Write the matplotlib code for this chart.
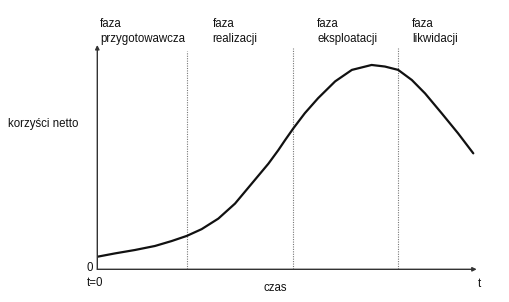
import matplotlib
matplotlib.use("Agg")
import matplotlib.pyplot as plt

# Data (time in % of horizon, net benefit in % of axis height)
t = [0, 4.7, 9.9, 15.2, 19.6, 23.6, 27.5, 31.9, 36.3, 40.7, 45.1, 47.7,
     49.5, 51.7, 54.7, 58.2, 62.7, 67.1, 72.3, 75.8, 79.3, 82.9, 86.4,
     90.8, 95.1, 99.1]
benefit = [5.6, 7.1, 8.6, 10.4, 12.6, 14.9, 17.9, 22.6, 29.3, 38.2, 47.1, 53.1,
           57.6, 62.9, 69.6, 76.3, 83.8, 88.9, 91.1, 90.4, 88.9, 84.4, 78.4,
           69.5, 60.6, 51.7]
phase_bounds = [23.7, 51.5, 79.3]
phase_labels = ["faza\nprzygotowawcza", "faza\nrealizacji", "faza\neksploatacji", "faza\nlikwidacji"]
phase_label_x = [0.8, 30.4, 58.0, 83.0]

plt.rcParams['font.family'] = ['Liberation Sans', 'DejaVu Sans']

W, H = 510, 302
fig = plt.figure(figsize=(W / 100, H / 100), dpi=100)
fig.patch.set_facecolor('white')
x0, x1, y0, y1 = 97.3, 476.7, 269.3, 45.0
ax = fig.add_axes([x0 / W, 1 - y0 / H, (x1 - x0) / W, (y0 - y1) / H])
ax.set_xlim(0, 100)
ax.set_ylim(0, 100)
ax.axis('off')

# axes with arrows
ax.annotate('', xy=(100, 0), xytext=(0, 0),
            arrowprops=dict(arrowstyle='-|>', color='#333333', lw=1.0,
                            mutation_scale=6, shrinkA=0, shrinkB=0))
ax.annotate('', xy=(0, 100), xytext=(0, 0),
            arrowprops=dict(arrowstyle='-|>', color='#333333', lw=1.0,
                            mutation_scale=6, shrinkA=0, shrinkB=0))

# phase boundaries
tops = [97.5, 98.5, 98.5]
for b, tp in zip(phase_bounds, tops):
    ax.plot([b, b], [0, tp], color='#777777', lw=0.8, ls=(0, (1, 1.2)))

ax.plot(t, benefit, color='#111111', lw=1.6, solid_capstyle='round',
        solid_joinstyle='round')

fs = 8.3
for lab, lx in zip(phase_labels, phase_label_x):
    ax.text(lx, 112, lab, fontsize=fs, ha='left', va='top', clip_on=False,
            linespacing=1.3, color='#111111')

fig.text(8 / W, 1 - 124 / H, 'korzyści netto', fontsize=fs, ha='left', va='center', color='#111111')
fig.text(93.5 / W, 1 - 268 / H, '0', fontsize=fs, ha='right', va='center', color='#111111')
fig.text(87 / W, 1 - 283 / H, 't=0', fontsize=fs, ha='left', va='center', color='#111111')
fig.text(275 / W, 1 - 288 / H, 'czas', fontsize=fs, ha='center', va='center', color='#111111')
fig.text(479 / W, 1 - 284 / H, 't', fontsize=fs, ha='center', va='center', color='#111111')

fig.savefig('out.png', dpi=100, facecolor='white')
